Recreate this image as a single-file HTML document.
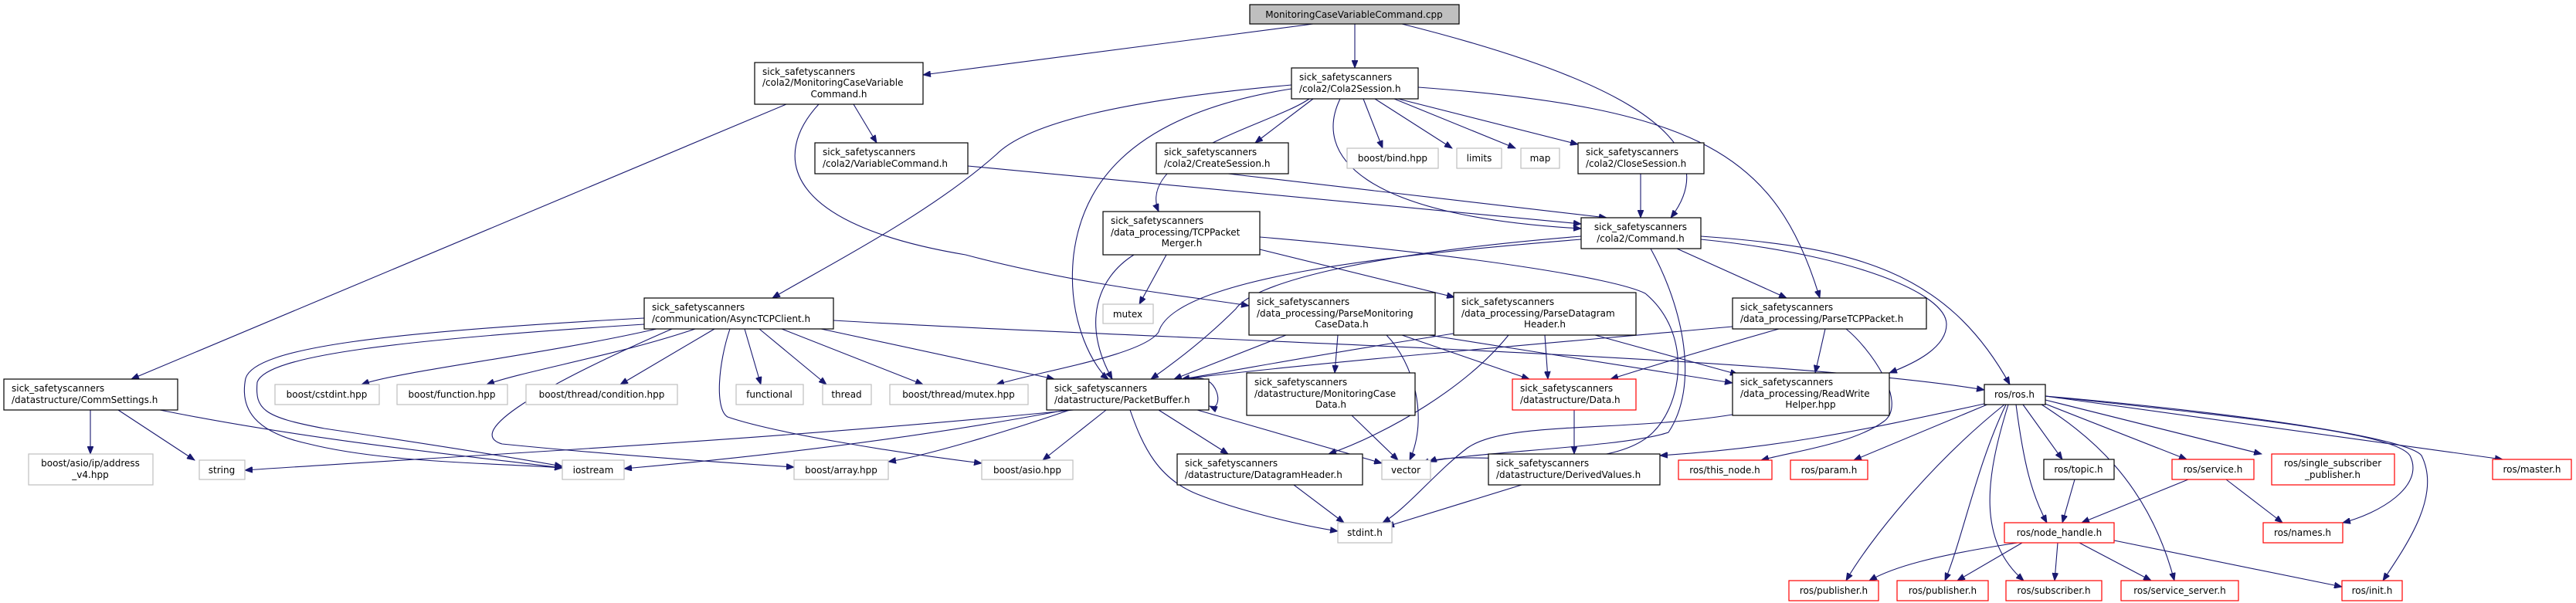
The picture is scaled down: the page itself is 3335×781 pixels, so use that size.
<!DOCTYPE html>
<html><head><meta charset="utf-8"><style>
html,body{margin:0;padding:0;background:#fff}
svg{display:block}
text{font-family:"DejaVu Sans","Liberation Sans",sans-serif;font-size:12px;fill:#000}
.n{fill:#fff;stroke:#000;stroke-width:1.2}
.g{fill:#fff;stroke:#bfbfbf;stroke-width:1.2}
.r{fill:#fff;stroke:#ff0000;stroke-width:1.2}
.e{fill:none;stroke:#191970;stroke-width:1.1;marker-end:url(#a)}
.c{text-anchor:middle}
</style></head><body>
<svg width="3335" height="781" viewBox="0 0 3335 781" xmlns="http://www.w3.org/2000/svg">
<defs><marker id="a" markerUnits="userSpaceOnUse" markerWidth="11" markerHeight="8" refX="10" refY="4" orient="auto"><path d="M0,0 L10,4 L0,8 z" fill="#191970" stroke="#191970" stroke-width="0.8"/></marker></defs>
<g>
<path class="e" d="M1700,31 L1195,97"/>
<path class="e" d="M1754,31 L1754,88"/>
<path class="e" d="M1815,31 C2050,90 2250,170 2163,282"/>
<path class="e" d="M1018,135 L170,491"/>
<path class="e" d="M1105,135 L1135,185"/>
<path class="e" d="M1060,135 C1000,200 1010,290 1250,330 C1400,370 1550,385 1617,396"/>
<path class="e" d="M1672,110 C1450,130 1330,160 1290,200 C1200,280 1060,350 1000,386"/>
<path class="e" d="M1672,115 C1450,150 1400,250 1390,330 C1380,420 1420,480 1435,491"/>
<path class="e" d="M1695,128 C1650,160 1470,200 1500,274"/>
<path class="e" d="M1700,128 L1625,185"/>
<path class="e" d="M1765,128 L1790,192"/>
<path class="e" d="M1780,128 L1880,192"/>
<path class="e" d="M1805,128 L1962,192"/>
<path class="e" d="M1810,128 L2043,187"/>
<path class="e" d="M1735,128 C1700,200 1760,280 2047,296"/>
<path class="e" d="M1836,113 C2200,140 2300,200 2356,386"/>
<path class="e" d="M1253,215 L2047,290"/>
<path class="e" d="M1590,225 L2080,282"/>
<path class="e" d="M2124,225 L2124,282"/>
<path class="e" d="M1510,330 L1475,394"/>
<path class="e" d="M1468,330 C1420,360 1400,420 1440,491"/>
<path class="e" d="M1631,323 L1883,385"/>
<path class="e" d="M1631,307 C1900,330 2090,360 2130,380 C2190,430 2180,520 2140,560 C2080,620 1900,580 1850,598"/>
<path class="e" d="M2047,306 C1750,330 1620,370 1600,400 C1560,440 1520,470 1490,491"/>
<path class="e" d="M2047,310 C1800,330 1520,360 1500,430 C1480,460 1350,480 1290,498"/>
<path class="e" d="M2137,322 C2180,400 2200,500 2160,560 C2100,580 1900,585 1840,600"/>
<path class="e" d="M2171,322 L2313,386"/>
<path class="e" d="M2202,306 C2400,320 2520,350 2602,498"/>
<path class="e" d="M2202,310 C2400,330 2520,380 2520,420 C2520,450 2480,470 2446,483"/>
<path class="e" d="M850,426 C700,460 520,480 468,498"/>
<path class="e" d="M900,426 C800,460 680,480 630,498"/>
<path class="e" d="M925,426 L803,498"/>
<path class="e" d="M964,426 L985,498"/>
<path class="e" d="M983,426 L1070,498"/>
<path class="e" d="M1012,426 L1195,498"/>
<path class="e" d="M1063,426 L1365,491"/>
<path class="e" d="M834,412 C500,430 330,450 318,490 C310,530 330,560 400,575 C500,600 650,600 728,606"/>
<path class="e" d="M834,420 C520,440 345,460 333,495 C330,530 340,540 420,555 C520,570 650,590 728,604"/>
<path class="e" d="M945,426 C930,470 925,530 942,540 C1000,560 1150,585 1271,600"/>
<path class="e" d="M870,426 C700,500 600,560 650,575 C800,590 950,600 1028,605"/>
<path class="e" d="M1079,415 C1500,440 2300,460 2569,505"/>
<path class="e" d="M117,531 L117,588"/>
<path class="e" d="M153,531 L252,596"/>
<path class="e" d="M207,531 C400,570 600,590 728,606"/>
<path class="e" d="M1540,491 C1580,480 1585,535 1566,526"/>
<path class="e" d="M1385,531 C1300,560 1200,590 1150,598"/>
<path class="e" d="M1432,531 L1350,596"/>
<path class="e" d="M1500,531 L1590,588"/>
<path class="e" d="M1463,531 C1480,580 1500,620 1550,640 C1600,660 1680,680 1732,688"/>
<path class="e" d="M1550,531 C1650,560 1720,580 1789,600"/>
<path class="e" d="M1380,531 C1200,565 1000,590 808,607"/>
<path class="e" d="M1390,531 C1000,570 600,590 317,609"/>
<path class="e" d="M1665,434 L1520,491"/>
<path class="e" d="M1732,434 L1728,483"/>
<path class="e" d="M1795,434 C1830,470 1850,540 1825,596"/>
<path class="e" d="M1815,434 L1980,491"/>
<path class="e" d="M1850,434 L2243,496"/>
<path class="e" d="M1882,432 C1700,460 1600,480 1530,491"/>
<path class="e" d="M2000,434 L2004,491"/>
<path class="e" d="M2065,434 L2250,485"/>
<path class="e" d="M1953,434 C1900,500 1800,560 1720,588"/>
<path class="e" d="M2243,423 C2000,445 1700,470 1530,491"/>
<path class="e" d="M2303,426 C2200,455 2120,480 2085,491"/>
<path class="e" d="M2363,426 L2350,483"/>
<path class="e" d="M2390,426 C2420,450 2470,520 2440,545 C2400,575 2320,585 2280,596"/>
<path class="e" d="M1750,538 L1810,596"/>
<path class="e" d="M2038,531 L2038,588"/>
<path class="e" d="M1970,628 L1795,682"/>
<path class="e" d="M1675,628 L1740,677"/>
<path class="e" d="M2243,537 C2100,560 1950,545 1900,580 C1860,610 1820,660 1790,677"/>
<path class="e" d="M2575,523 L2400,596"/>
<path class="e" d="M2595,524 C2500,600 2420,700 2390,752"/>
<path class="e" d="M2597,524 C2560,600 2540,700 2518,752"/>
<path class="e" d="M2600,524 C2570,620 2560,700 2620,752"/>
<path class="e" d="M2610,524 C2620,600 2630,640 2650,677"/>
<path class="e" d="M2619,524 L2670,595"/>
<path class="e" d="M2640,520 L2831,595"/>
<path class="e" d="M2648,518 L2928,588"/>
<path class="e" d="M2648,513 C2900,540 3100,560 3120,590 C3140,630 3080,665 3033,677"/>
<path class="e" d="M2648,513 C2950,540 3120,570 3135,590 C3160,640 3120,700 3085,752"/>
<path class="e" d="M2648,513 L3240,595"/>
<path class="e" d="M2640,522 C2700,560 2780,620 2815,752"/>
<path class="e" d="M2569,523 C2400,560 2300,580 2149,590"/>
<path class="e" d="M2686,621 L2670,677"/>
<path class="e" d="M2833,621 L2695,677"/>
<path class="e" d="M2882,621 L2955,677"/>
<path class="e" d="M2618,703 L2534,752"/>
<path class="e" d="M2612,703 C2500,720 2450,735 2420,752"/>
<path class="e" d="M2664,703 L2660,752"/>
<path class="e" d="M2692,703 L2785,752"/>
<path class="e" d="M2737,700 L3032,760"/>
</g>
<g>
<rect x="1618" y="6" width="271" height="25" fill="#bfbfbf" stroke="#000" stroke-width="1.2"/><text class="c" x="1753" y="23">MonitoringCaseVariableCommand.cpp</text>
<rect class="n" x="977" y="81" width="218" height="54"/><text x="987" y="97">sick_safetyscanners</text><text x="987" y="111">/cola2/MonitoringCaseVariable</text><text class="c" x="1086" y="126">Command.h</text>
<rect class="n" x="1672" y="88" width="164" height="40"/><text x="1682" y="104">sick_safetyscanners</text><text x="1682" y="119">/cola2/Cola2Session.h</text>
<rect class="n" x="1055" y="185" width="198" height="40"/><text x="1065" y="201">sick_safetyscanners</text><text x="1065" y="216">/cola2/VariableCommand.h</text>
<rect class="n" x="1497" y="185" width="171" height="40"/><text x="1507" y="201">sick_safetyscanners</text><text x="1507" y="216">/cola2/CreateSession.h</text>
<rect class="g" x="1744" y="192" width="118" height="26"/><text class="c" x="1803" y="209">boost/bind.hpp</text>
<rect class="g" x="1886" y="192" width="58" height="26"/><text class="c" x="1915" y="209">limits</text>
<rect class="g" x="1969" y="192" width="50" height="26"/><text class="c" x="1994" y="209">map</text>
<rect class="n" x="2043" y="185" width="163" height="40"/><text x="2053" y="201">sick_safetyscanners</text><text x="2053" y="216">/cola2/CloseSession.h</text>
<rect class="n" x="1428" y="274" width="203" height="56"/><text x="1438" y="290">sick_safetyscanners</text><text x="1438" y="305">/data_processing/TCPPacket</text><text class="c" x="1530" y="319">Merger.h</text>
<rect class="n" x="2047" y="282" width="155" height="40"/><text class="c" x="2124" y="298">sick_safetyscanners</text><text class="c" x="2124" y="313">/cola2/Command.h</text>
<rect class="g" x="1428" y="394" width="65" height="25"/><text class="c" x="1460" y="411">mutex</text>
<rect class="n" x="834" y="386" width="245" height="40"/><text x="844" y="402">sick_safetyscanners</text><text x="844" y="417">/communication/AsyncTCPClient.h</text>
<rect class="n" x="1617" y="379" width="241" height="55"/><text x="1627" y="395">sick_safetyscanners</text><text x="1627" y="410">/data_processing/ParseMonitoring</text><text class="c" x="1737" y="424">CaseData.h</text>
<rect class="n" x="1882" y="379" width="236" height="55"/><text x="1892" y="395">sick_safetyscanners</text><text x="1892" y="410">/data_processing/ParseDatagram</text><text class="c" x="2000" y="424">Header.h</text>
<rect class="n" x="2243" y="386" width="251" height="40"/><text x="2253" y="402">sick_safetyscanners</text><text x="2253" y="417">/data_processing/ParseTCPPacket.h</text>
<rect class="n" x="2569" y="498" width="79" height="26"/><text class="c" x="2608" y="515">ros/ros.h</text>
<rect class="n" x="5" y="491" width="225" height="40"/><text x="15" y="507">sick_safetyscanners</text><text x="15" y="522">/datastructure/CommSettings.h</text>
<rect class="g" x="356" y="498" width="135" height="26"/><text class="c" x="423" y="515">boost/cstdint.hpp</text>
<rect class="g" x="514" y="498" width="143" height="26"/><text class="c" x="585" y="515">boost/function.hpp</text>
<rect class="g" x="681" y="498" width="196" height="26"/><text class="c" x="779" y="515">boost/thread/condition.hpp</text>
<rect class="g" x="953" y="498" width="87" height="26"/><text class="c" x="996" y="515">functional</text>
<rect class="g" x="1065" y="498" width="63" height="26"/><text class="c" x="1096" y="515">thread</text>
<rect class="g" x="1152" y="498" width="179" height="26"/><text class="c" x="1241" y="515">boost/thread/mutex.hpp</text>
<rect class="n" x="1355" y="491" width="210" height="40"/><text x="1365" y="507">sick_safetyscanners</text><text x="1365" y="522">/datastructure/PacketBuffer.h</text>
<rect class="n" x="1614" y="483" width="218" height="55"/><text x="1624" y="499">sick_safetyscanners</text><text x="1624" y="514">/datastructure/MonitoringCase</text><text class="c" x="1723" y="528">Data.h</text>
<rect class="r" x="1958" y="491" width="160" height="40"/><text x="1968" y="507">sick_safetyscanners</text><text x="1968" y="522">/datastructure/Data.h</text>
<rect class="n" x="2243" y="483" width="203" height="55"/><text x="2253" y="499">sick_safetyscanners</text><text x="2253" y="514">/data_processing/ReadWrite</text><text class="c" x="2344" y="528">Helper.hpp</text>
<rect class="g" x="37" y="588" width="161" height="40"/><text class="c" x="117" y="604">boost/asio/ip/address</text><text class="c" x="117" y="619">_v4.hpp</text>
<rect class="g" x="258" y="596" width="59" height="25"/><text class="c" x="287" y="613">string</text>
<rect class="g" x="728" y="596" width="80" height="25"/><text class="c" x="768" y="613">iostream</text>
<rect class="g" x="1028" y="596" width="122" height="25"/><text class="c" x="1089" y="613">boost/array.hpp</text>
<rect class="g" x="1271" y="596" width="118" height="25"/><text class="c" x="1330" y="613">boost/asio.hpp</text>
<rect class="n" x="1524" y="588" width="240" height="40"/><text x="1534" y="604">sick_safetyscanners</text><text x="1534" y="619">/datastructure/DatagramHeader.h</text>
<rect class="g" x="1789" y="596" width="63" height="25"/><text class="c" x="1820" y="613">vector</text>
<rect class="n" x="1927" y="588" width="222" height="40"/><text x="1937" y="604">sick_safetyscanners</text><text x="1937" y="619">/datastructure/DerivedValues.h</text>
<rect class="r" x="2173" y="596" width="121" height="25"/><text class="c" x="2233" y="613">ros/this_node.h</text>
<rect class="r" x="2318" y="596" width="100" height="25"/><text class="c" x="2368" y="613">ros/param.h</text>
<rect class="n" x="2646" y="595" width="91" height="26"/><text class="c" x="2691" y="612">ros/topic.h</text>
<rect class="r" x="2812" y="595" width="106" height="26"/><text class="c" x="2865" y="612">ros/service.h</text>
<rect class="r" x="2941" y="588" width="159" height="40"/><text class="c" x="3020" y="604">ros/single_subscriber</text><text class="c" x="3020" y="619">_publisher.h</text>
<rect class="r" x="3227" y="595" width="102" height="26"/><text class="c" x="3278" y="612">ros/master.h</text>
<rect class="g" x="1732" y="677" width="70" height="26"/><text class="c" x="1767" y="694">stdint.h</text>
<rect class="r" x="2595" y="677" width="142" height="26"/><text class="c" x="2666" y="694">ros/node_handle.h</text>
<rect class="r" x="2930" y="677" width="103" height="26"/><text class="c" x="2981" y="694">ros/names.h</text>
<rect class="r" x="2316" y="752" width="116" height="26"/><text class="c" x="2374" y="769">ros/publisher.h</text>
<rect class="r" x="2456" y="752" width="118" height="26"/><text class="c" x="2515" y="769">ros/publisher.h</text>
<rect class="r" x="2597" y="752" width="124" height="26"/><text class="c" x="2659" y="769">ros/subscriber.h</text>
<rect class="r" x="2746" y="752" width="152" height="26"/><text class="c" x="2822" y="769">ros/service_server.h</text>
<rect class="r" x="3032" y="752" width="78" height="26"/><text class="c" x="3071" y="769">ros/init.h</text>
</g>
</svg>
</body></html>
